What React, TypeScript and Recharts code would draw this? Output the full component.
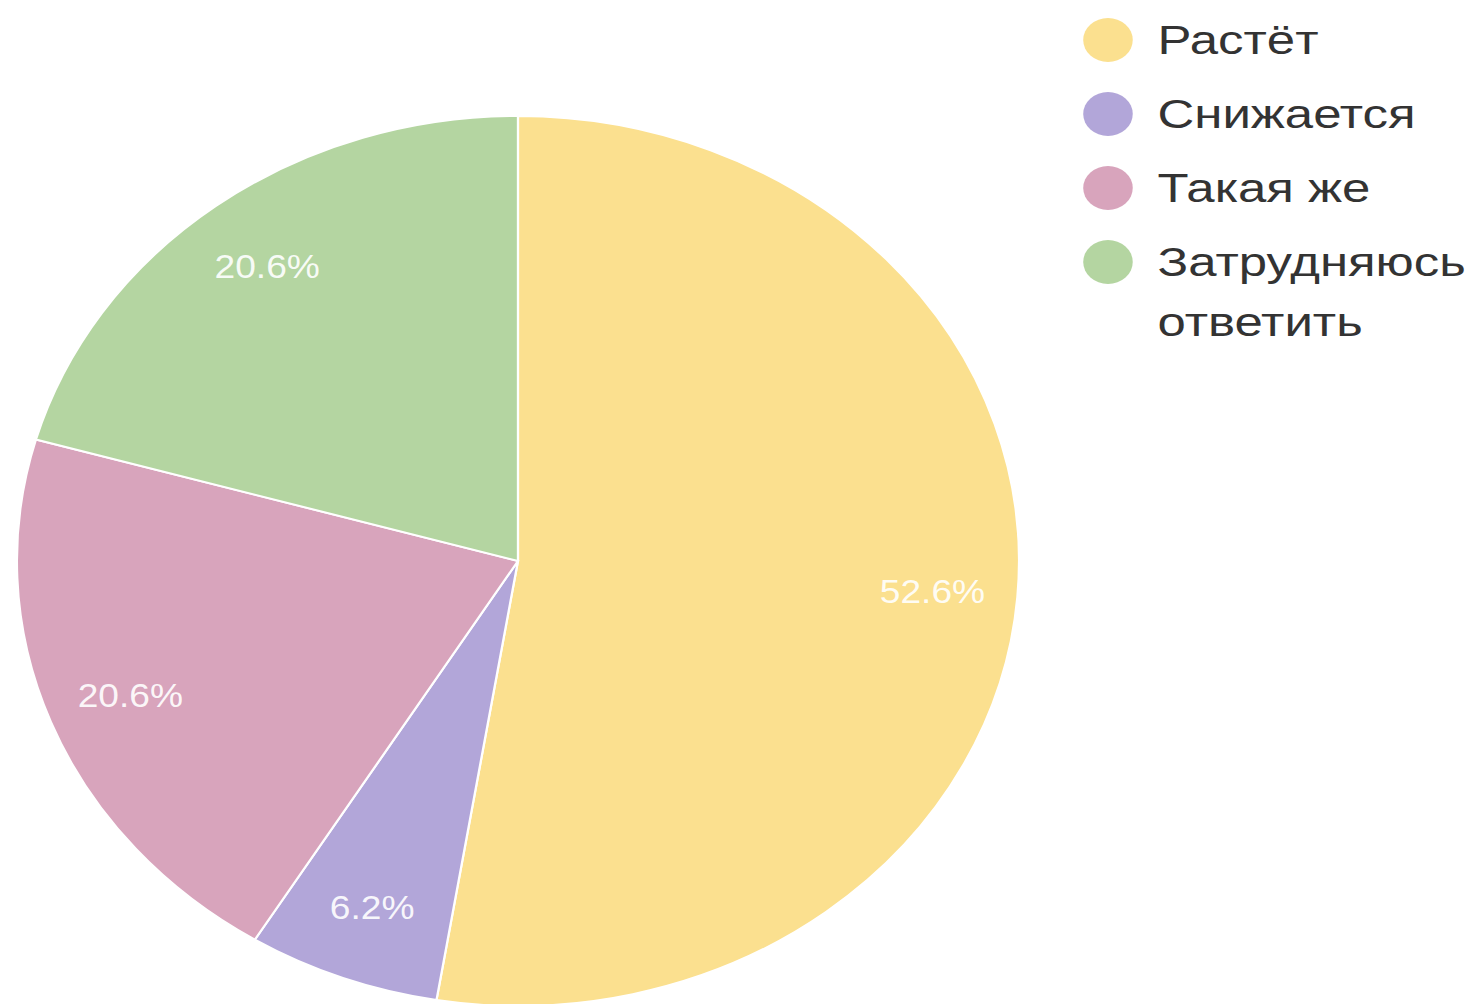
import { PieChart, Pie, Cell, Legend } from 'recharts';

const categories = ['Растёт', 'Снижается', 'Такая же', 'Затрудняюсь ответить'];
const shares = [52.6, 6.2, 20.6, 20.6];
const colors = ['#fbe08f', '#b2a6d9', '#d8a4bc', '#b4d5a1'];

const data = categories.map((name, i) => ({ name, value: shares[i] }));

const RADIAN = Math.PI / 180;

const renderLabel = (props: any) => {
  const { cx, cy, midAngle, outerRadius, value } = props;
  const r = outerRadius * 0.83;
  const x = cx + r * Math.cos(-midAngle * RADIAN);
  const y = cy + r * Math.sin(-midAngle * RADIAN);
  return (
    <text
      x={x}
      y={y}
      fill="#ffffff"
      fillOpacity={0.92}
      textAnchor="middle"
      dominantBaseline="central"
      fontSize={33}
      fontFamily="'Liberation Sans', Arial, sans-serif"
    >
      {value.toFixed(1)}%
    </text>
  );
};

// legend built straight from the arrays so the order stays as in the source
const LegendBox = () => (
  <div style={{ fontFamily: "'Liberation Sans', Arial, sans-serif", fontSize: 40, color: '#333' }}>
    {categories.map((name, i) => (
      <div key={name} style={{ display: 'flex', alignItems: 'flex-start', height: i === 3 ? 140 : 74 }}>
        <span
          style={{
            display: 'inline-block',
            width: 44,
            height: 44,
            borderRadius: '50%',
            background: colors[i],
            marginRight: 22,
            flexShrink: 0,
          }}
        />
        <span
          style={{
            width: 240,
            lineHeight: '60px',
            marginTop: -8,
            transform: 'scaleX(1.13)',
            transformOrigin: '0 0',
          }}
        >
          {name}
        </span>
      </div>
    ))}
  </div>
);

const App = () => {
  return (
    <div style={{ position: 'fixed', left: 0, top: 0, width: 1474, height: 1004, overflow: 'hidden', background: '#fff' }}>
      <div style={{ width: 1309, height: 1004, transform: 'scaleX(1.126)', transformOrigin: '0 0' }}>
        <PieChart width={1309} height={1004}>
          <Pie
            data={data}
            dataKey="value"
            nameKey="name"
            cx={455}
            cy={556}
            outerRadius={445}
            startAngle={90}
            endAngle={-270}
            stroke="#ffffff"
            strokeWidth={2}
            label={renderLabel}
            labelLine={false}
            isAnimationActive={false}
          >
            {data.map((d, i) => (
              <Cell key={d.name} fill={colors[i]} />
            ))}
          </Pie>
          <Legend
            layout="vertical"
            content={<LegendBox />}
            wrapperStyle={{ position: 'absolute', left: 962, top: 18, width: 340 }}
          />
        </PieChart>
      </div>
    </div>
  );
};

export default App;
